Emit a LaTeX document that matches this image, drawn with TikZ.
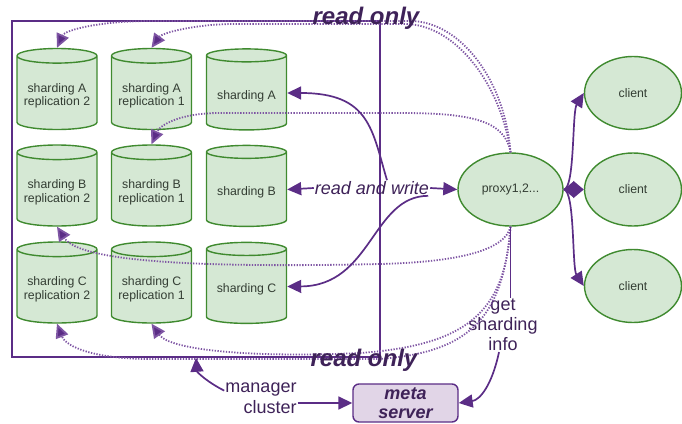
\documentclass[tikz,border=0pt]{standalone}
\usepackage{fontspec}
\setmainfont{Liberation Sans}
\usetikzlibrary{shapes.geometric,arrows.meta,calc}
\definecolor{gfill}{HTML}{D5E8D4}
\definecolor{gline}{HTML}{3F8A2F}
\definecolor{gtext}{HTML}{333D33}
\definecolor{pline}{HTML}{5B2D86}
\definecolor{pdot}{HTML}{7E55A3}
\definecolor{ptext}{HTML}{3E2258}
\definecolor{pfill}{HTML}{E1D5E7}
\newcommand\dbpush{\rule{0pt}{15pt}}
\tikzset{
  db/.style={cylinder, shape border rotate=90, aspect=0.22, draw=gline, fill=gfill,
    line width=1.4pt, minimum width=80pt, minimum height=81pt, inner sep=0pt,
    align=center, text=gtext, font=\fontsize{12.3}{13.5}\selectfont},
  oval/.style={ellipse, draw=gline, fill=gfill, line width=1.4pt, inner sep=0pt,
    text=gtext, font=\fontsize{12.3}{14}\selectfont},
  solidarr/.style={draw=pline, line width=1.7pt, -{Triangle[length=14pt,width=13pt,fill=pline]}},
  dotarr/.style={draw=pdot, line width=1.8pt, dash pattern=on 1.3pt off 1.5pt,
    -{Triangle[length=14pt,width=13pt,fill=pline]}},
  lbl/.style={text=ptext, inner sep=1pt},
}
\begin{document}
\begin{tikzpicture}[x=1pt,y=-1pt]
\useasboundingbox (0,0) rectangle (682,423);
% cluster frame
\node[draw=pline, line width=1.6pt, minimum width=368pt, minimum height=336pt, inner sep=0pt] (mgr) at (196,189) {};
% cylinders
\node[db] (a2) at (57,93) {\dbpush sharding A\\replication 2};
\node[db] (a1) at (151.5,93) {\dbpush sharding A\\replication 1};
\node[db] (a0) at (246.5,93) {\dbpush sharding A};
\node[db] (b2) at (57,189.5) {\dbpush sharding B\\replication 2};
\node[db] (b1) at (151.5,189.5) {\dbpush sharding B\\replication 1};
\node[db] (b0) at (246.5,189.5) {\dbpush sharding B};
\node[db] (c2) at (57,286.5) {\dbpush sharding C\\replication 2};
\node[db] (c1) at (151.5,286.5) {\dbpush sharding C\\replication 1};
\node[db] (c0) at (246.5,286.5) {\dbpush sharding C};
% proxy and clients
\node[oval, minimum width=105pt, minimum height=73pt] (proxy) at (510.5,189.5) {proxy1,2...};
\node[oval, minimum width=97pt, minimum height=73pt] (cl1) at (633,93) {client};
\node[oval, minimum width=97pt, minimum height=73pt] (cl2) at (633,189.5) {client};
\node[oval, minimum width=97pt, minimum height=73pt] (cl3) at (633,286) {client};
% meta server
\node[draw=pline, fill=pfill, line width=1.4pt, rounded corners=6pt, minimum width=105pt,
  minimum height=38pt, align=center, text=ptext, inner sep=0pt,
  font=\fontsize{18}{19}\selectfont\bfseries\itshape] (meta) at (405.5,403) {meta\\server};
% labels
\node[lbl, font=\fontsize{18}{20}\selectfont\itshape] (rw) at (372,188) {read and write};
\node[lbl, align=center, font=\fontsize{18}{20}\selectfont] (gsi) at (503,325) {get\\sharding\\info};
\node[lbl, align=right, font=\fontsize{18}{20.5}\selectfont] (mc) at (261,398) {manager\\cluster};
% read only dotted arrows
\draw[dotarr] (proxy.north) .. controls (505,80) and (460,21) .. (410,21) -- (150,21)
  .. controls (100,21) and (65,30) .. (a2.north);
\draw[dotarr] (proxy.north) .. controls (501,84) and (455,24) .. (405,24) -- (235,24)
  .. controls (195,24) and (162,33) .. (a1.north);
\draw[dotarr] (proxy.north) .. controls (505,120) and (470,113) .. (400,113) -- (220,113)
  .. controls (180,113) and (160,125) .. (b1.north);
\draw[dotarr] (proxy.south) .. controls (505,250) and (460,262) .. (380,264)
  .. controls (200,268) and (80,262) .. (b2.south);
\draw[dotarr] (proxy.south) .. controls (505,310) and (470,345) .. (360,353)
  .. controls (250,358) and (170,350) .. (c1.south);
\draw[dotarr] (proxy.south) .. controls (503,318) and (470,352) .. (380,359) -- (150,359)
  .. controls (95,359) and (66,347) .. (c2.south);
% read only labels
\node[lbl, font=\fontsize{24}{26}\selectfont\bfseries\itshape] (ro1) at (366,18) {read only};
\node[lbl, font=\fontsize{24}{26}\selectfont\bfseries\itshape] (ro2) at (364,360) {read only};
% read and write arrows
\draw[solidarr] (rw.west) -- (b0.east);
\draw[solidarr] (rw.east) -- (proxy.west);
\draw[solidarr] ([xshift=15pt]rw.north) .. controls (372,130) and (370,93) .. (a0.east);
\draw[solidarr] ([xshift=-2pt]rw.south east) .. controls (372,196) and (372,286) .. (c0.east);
% clients
\draw[draw=pline, line width=1.7pt, {Triangle[length=10.5pt,width=17pt,fill=pline]}-{Triangle[length=10.5pt,width=17pt,fill=pline]}] (proxy.east) -- (cl2.west);
\draw[solidarr] (proxy.east) .. controls (575,189) and (572,112) .. (cl1.west);
\draw[solidarr] (proxy.east) .. controls (575,190) and (572,268) .. (cl3.west);
% meta server links
\draw[draw=pline, line width=1.7pt] (proxy.south) -- (proxy.south |- gsi.north);
\draw[solidarr] ([xshift=-4pt]gsi.south) .. controls (492,385) and (480,400) .. (meta.east);
\draw[solidarr] ([yshift=-9pt]mc.north west) .. controls (207,382) and (197,372) .. (mgr.south);
\draw[solidarr] (mc.east |- meta.west) -- (meta.west);
\end{tikzpicture}
\end{document}
